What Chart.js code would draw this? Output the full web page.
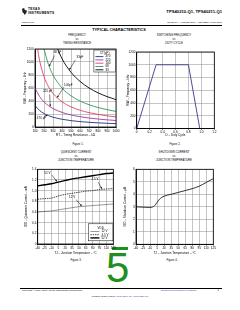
<!DOCTYPE html>
<html><head><meta charset="utf-8">
<script src="https://cdn.jsdelivr.net/npm/chart.js@4.4.1/dist/chart.umd.min.js"></script>
<style>
html,body{margin:0;padding:0;background:#fff;width:240px;height:310px;overflow:hidden;}
body{position:relative;font-family:"Liberation Sans",Arial,sans-serif;color:#000;}
.t{position:absolute;white-space:nowrap;line-height:1;}
.c{transform:translateX(-50%);text-align:center;}
.b{font-weight:bold;}
canvas{position:absolute;}
.blue{color:#3333cc;}
</style></head><body>

<div style="position:absolute;left:22px;top:8px;width:5px;height:7px;background:#222;clip-path:polygon(0 10%,45% 0,55% 30%,100% 35%,85% 70%,55% 100%,35% 75%,10% 60%);"></div>
<div class="t b" style="left:28px;top:8.3px;font-size:3.2px;letter-spacing:0.3px;">TEXAS</div>
<div class="t b" style="left:28px;top:12px;font-size:3.2px;letter-spacing:0.3px;">INSTRUMENTS</div>
<div class="t b" style="right:18px;top:9.8px;font-size:4.2px;">TPS40210-Q1, TPS40211-Q1</div>
<div class="t" style="left:22px;top:21.8px;font-size:2.4px;">www.ti.com</div>
<div class="t" style="right:18px;top:21.8px;font-size:2.4px;">SLVS910 – AUGUST 2009 – REVISED APRIL 2010</div>
<div style="position:absolute;left:21px;top:24.8px;width:201px;height:0.5px;background:#000;"></div>

<div class="t b c" style="left:119px;top:28.8px;font-size:3.8px;">TYPICAL CHARACTERISTICS</div>

<div class="t c" style="left:77px;top:33.6px;font-size:2.8px;">FREQUENCY</div>
<div class="t c" style="left:77px;top:37.9px;font-size:2.8px;">vs</div>
<div class="t c" style="left:77px;top:42.3px;font-size:2.8px;">TIMING RESISTANCE</div>
<div class="t c" style="left:174px;top:33.6px;font-size:2.8px;">SWITCHING FREQUENCY</div>
<div class="t c" style="left:174px;top:37.9px;font-size:2.8px;">vs</div>
<div class="t c" style="left:174px;top:42.3px;font-size:2.8px;">DUTY CYCLE</div>

<div class="t c" style="left:78px;top:142.6px;font-size:2.8px;">Figure 1.</div>
<div class="t c" style="left:175px;top:142.6px;font-size:2.8px;">Figure 2.</div>

<div class="t c" style="left:76px;top:151.3px;font-size:2.8px;">QUIESCENT CURRENT</div>
<div class="t c" style="left:76px;top:155.3px;font-size:2.8px;">vs</div>
<div class="t c" style="left:76px;top:159.3px;font-size:2.8px;">JUNCTION TEMPERATURE</div>
<div class="t c" style="left:174px;top:151.3px;font-size:2.8px;">SHUTDOWN CURRENT</div>
<div class="t c" style="left:174px;top:155.3px;font-size:2.8px;">vs</div>
<div class="t c" style="left:174px;top:159.3px;font-size:2.8px;">JUNCTION TEMPERATURE</div>

<div class="t c" style="left:76px;top:258.6px;font-size:2.8px;">Figure 3.</div>
<div class="t c" style="left:172px;top:258.6px;font-size:2.8px;">Figure 4.</div>

<div style="position:absolute;left:112px;top:246.8px;width:16px;height:3px;background:#1f8f1f;"></div>
<div class="t" style="left:106px;top:247px;font-size:42px;color:#1f8f1f;">5</div>

<div style="position:absolute;left:20px;top:287.8px;width:202px;height:0.8px;background:#000;"></div>
<div class="t" style="left:22px;top:290px;font-size:2.4px;">Copyright © 2009–2010, Texas Instruments Incorporated</div>
<div class="t blue" style="left:161px;top:290px;font-size:2.4px;">Submit Documentation Feedback</div>
<div class="t" style="left:217.5px;top:290px;font-size:2.6px;">5</div>
<div class="t c" style="left:120px;top:296.2px;font-size:2.4px;">Product Folder Link(s): <span class="blue">TPS40210-Q1</span>&nbsp; <span class="blue">TPS40211-Q1</span></div>

<canvas id="c1"></canvas>
<canvas id="c2"></canvas>
<canvas id="c3"></canvas>
<canvas id="c4"></canvas>

<script>
// ---------- Figure 1: frequency vs timing resistance ----------
const fig1XTicks = [100,200,300,400,500,600,700,800,900,1000];
const fig1YTicks = [0,200,400,600,800,1000,1200];
const fig1Caps = ['470','220','100','68','33'];
const rt470 = [100,150,200,250,300,400,500,600,700,800,900,1000];
const f470  = [330,255,207,175,151,119,98,83,72,64,57,52];
const rt220 = [100,150,200,250,300,400,500,600,700,800,900,1000];
const f220  = [600,470,386,327,284,225,186,159,138,123,110,100];
const rt100 = [128,150,200,250,300,400,500,600,700,800,900,1000];
const f100  = [1210,1030,775,620,517,388,310,258,221,194,172,155];
const rt68  = [198,250,300,400,500,600,700,800,900,1000];
const f68   = [1210,960,800,600,480,400,343,300,267,240];
const rt33  = [350,400,500,600,700,800,900,1000];
const f33   = [1205,1050,842,702,601,526,468,421];

// ---------- Figure 2: switching frequency vs duty cycle ----------
const fig2XTicks = [0,0.2,0.4,0.6,0.8,1.0,1.2];
const fig2XLabels = ['0','0.2','0.4','0.6','0.8','1.0','1.2'];
const fig2YTicks = [0,200,400,600,800,1000,1200];
const duty = [0,0.3,0.8,0.975];
const fswDuty = [0,1000,1000,0];

// ---------- Figure 3: quiescent current vs temperature ----------
const tempTicks = [-40,-25,-10,5,20,35,50,65,80,95,110,125];
const fig3YTicks = [0,0.2,0.4,0.6,0.8,1.0,1.2,1.4];
const fig3YLabels = ['0','0.2','0.4','0.6','0.8','1.0','1.2','1.4'];
const fig3Temp = [-40,-25,-10,5,20,35,50,65,80,95,110,125];
const idd52 = [1.09,1.11,1.13,1.16,1.19,1.22,1.24,1.26,1.28,1.30,1.32,1.33];
const idd45 = [0.84,0.85,0.86,0.90,0.93,0.95,0.97,0.99,1.00,1.02,1.03,1.04];
const idd12 = [0.60,0.61,0.62,0.64,0.66,0.68,0.70,0.71,0.72,0.73,0.74,0.75];
const fig3Names = ['12 V','4.5 V','52 V'];

// ---------- Figure 4: shutdown current vs temperature ----------
const fig4YTicks = [0,1,2,3,4,5,6];
const fig4Temp = [-40,-25,-10,-5,0,5,10,20,35,50,65,80,95,110,125];
const isd = [3.0,2.97,2.95,2.98,3.1,3.35,3.6,3.85,4.0,4.15,4.3,4.45,4.65,4.95,5.25];

// ---------- styles ----------
const FONT = '"Liberation Sans", Arial, sans-serif';
const fig1Colors = ['#24307e','#9c3a9c','#e0406a','#2e9a5a','#000000'];

function pts(xs, ys){ return xs.map((x,i)=>({x:x, y:ys[i]})); }

const framePlugin = {
  id:'frame',
  afterDatasetsDraw(chart){
    const {ctx, chartArea:a} = chart;
    ctx.save(); ctx.strokeStyle='#000'; ctx.lineWidth=0.8;
    ctx.strokeRect(a.left, a.top, a.right-a.left, a.bottom-a.top);
    ctx.restore();
  }
};

const notesPlugin = {
  id:'notes',
  afterDatasetsDraw(chart, args, opts){
    const items = (opts && opts.items) || [];
    const xs = chart.scales.x, ys = chart.scales.y, ctx = chart.ctx;
    ctx.save();
    ctx.font = '3px ' + FONT;
    ctx.fillStyle='#000'; ctx.strokeStyle='#000'; ctx.lineWidth=0.5;
    ctx.textAlign='center'; ctx.textBaseline='middle';
    for (const n of items){
      ctx.fillText(n.text, xs.getPixelForValue(n.at[0]), ys.getPixelForValue(n.at[1]));
      if (n.from){
        const x1=xs.getPixelForValue(n.from[0]), y1=ys.getPixelForValue(n.from[1]);
        const x2=xs.getPixelForValue(n.to[0]), y2=ys.getPixelForValue(n.to[1]);
        ctx.beginPath(); ctx.moveTo(x1,y1); ctx.lineTo(x2,y2); ctx.stroke();
        const ang=Math.atan2(y2-y1,x2-x1), L=1.8, W=0.9;
        ctx.beginPath();
        ctx.moveTo(x2,y2);
        ctx.lineTo(x2-L*Math.cos(ang)+W*Math.sin(ang), y2-L*Math.sin(ang)-W*Math.cos(ang));
        ctx.lineTo(x2-L*Math.cos(ang)-W*Math.sin(ang), y2-L*Math.sin(ang)+W*Math.cos(ang));
        ctx.closePath(); ctx.fill();
      }
    }
    ctx.restore();
  }
};

const legendBoxPlugin = {
  id:'legbox',
  afterDatasetsDraw(chart, args, o){
    if (!o || !o.rows) return;
    const {ctx, chartArea:a} = chart;
    const x = a.right - o.dx - o.w, y = a.top + o.dy;
    ctx.save();
    ctx.fillStyle='#fff'; ctx.fillRect(x,y,o.w,o.h);
    ctx.strokeStyle='#000'; ctx.lineWidth=0.5; ctx.strokeRect(x,y,o.w,o.h);
    ctx.font='3px '+FONT; ctx.fillStyle='#000'; ctx.textBaseline='middle';
    ctx.textAlign='center'; ctx.fillText(o.title, x+o.w/2, y+o.titleY);
    ctx.textAlign='left';
    o.rows.forEach((r,i)=>{
      const yy = y + o.row0 + i*o.step;
      ctx.strokeStyle=r.color; ctx.lineWidth=r.width; ctx.setLineDash(r.dash||[]);
      ctx.beginPath(); ctx.moveTo(x+o.l0,yy); ctx.lineTo(x+o.l1,yy); ctx.stroke();
      ctx.setLineDash([]);
      ctx.fillStyle='#000'; ctx.fillText(r.label, x+o.tx, yy);
    });
    ctx.restore();
  }
};

function build(id, box, plot, ax, datasets, pluginOpts){
  const c = document.getElementById(id);
  const w = box.r-box.l, h = box.b-box.t;
  c.width=w; c.height=h;
  c.style.left=box.l+'px'; c.style.top=box.t+'px'; c.style.width=w+'px'; c.style.height=h+'px';
  const yW = plot.l-box.l, xH = box.b-plot.b;
  const tf = {family:FONT, size:3, lineHeight:1.2};
  const lh = 3.6;
  return new Chart(c, {
    type:'line',
    data:{datasets:datasets},
    plugins:[framePlugin, notesPlugin, legendBoxPlugin],
    options:{
      responsive:false, animation:false, devicePixelRatio:1,
      layout:{padding:{top:plot.t-box.t, right:box.r-plot.r, left:0, bottom:0}},
      elements:{point:{radius:0}},
      plugins:Object.assign({legend:{display:false}, tooltip:{enabled:false}}, pluginOpts||{}),
      scales:{
        x:{type:'linear', min:ax.xTicks[0], max:ax.xTicks[ax.xTicks.length-1],
           afterFit:s=>{s.height=xH;},
           afterBuildTicks:s=>{s.ticks=ax.xTicks.map(v=>({value:v}));},
           ticks:{autoSkip:false, maxRotation:0, minRotation:0, padding:0.5, color:'#000',
                  font:{family:FONT,size:3.1}, callback:(v,i)=>ax.xLabels[i]},
           grid:{color:'#8a8a8a', lineWidth:0.5, tickLength:1.5, tickColor:'#000', tickWidth:0.5},
           border:{color:'#000', width:0.8},
           title:{display:true, text:ax.xTitle, color:'#000', font:tf,
                  padding:{top:0,bottom:box.b-ax.xTitleY-lh/2}}},
        y:{type:'linear', min:ax.yTicks[0], max:ax.yTicks[ax.yTicks.length-1],
           afterFit:s=>{s.width=yW;},
           afterBuildTicks:s=>{s.ticks=ax.yTicks.map(v=>({value:v}));},
           ticks:{autoSkip:false, padding:1.3, color:'#000',
                  font:{family:FONT,size:3.1}, callback:(v,i)=>ax.yLabels[i]},
           grid:{color:'#8a8a8a', lineWidth:0.5, drawTicks:false},
           border:{color:'#000', width:0.8},
           title:{display:true, text:ax.yTitle, color:'#000', font:tf,
                  padding:{top:ax.yTitleX-box.l-lh/2,bottom:0}}}
      }
    }
  });
}

function ds(data, color, width, dash, smooth){
  return {data:data, borderColor:color, borderWidth:width, borderDash:dash||[], pointRadius:0,
          fill:false, cubicInterpolationMode: smooth?'monotone':'default', tension:0};
}

// Figure 1
build('c1', {l:20,t:44,r:121,b:140}, {l:35,t:49,r:116,b:127},
  {xTicks:fig1XTicks, xLabels:fig1XTicks.map(String), yTicks:fig1YTicks, yLabels:fig1YTicks.map(String),
   xTitle:'RT – Timing Resistance – kΩ', xTitleY:135, yTitle:'fSW – Frequency – kHz', yTitleX:25},
  [ds(pts(rt470,f470),fig1Colors[0],0.9,null,true),
   ds(pts(rt220,f220),fig1Colors[1],0.9,null,true),
   ds(pts(rt100,f100),fig1Colors[2],0.9,null,true),
   ds(pts(rt68,f68),fig1Colors[3],0.9,null,true),
   ds(pts(rt33,f33),fig1Colors[4],0.9,null,true)],
  {notes:{items:[
     {text:'68 pF', at:[350,1150], from:[318,1100], to:[258,935]},
     {text:'33pF', at:[600,1080], from:[548,1030], to:[482,880]},
     {text:'100pF', at:[470,650], from:[420,612], to:[346,452]},
     {text:'220 pF', at:[240,545], from:[262,500], to:[270,318]},
     {text:'470 pF', at:[172,135], from:[205,160], to:[238,186]}]},
   legbox:{dx:0.6, dy:1, w:21.5, h:22, title:'CT(pF)', titleY:2.9, row0:6.6, step:3.3,
     l0:1.5, l1:9.5, tx:11.5,
     rows:fig1Caps.map((c,i)=>({label:c, color:fig1Colors[i], width:0.9}))}});

// Figure 2
build('c2', {l:126,t:47,r:220,b:140}, {l:136.7,t:52,r:214.3,b:128.5},
  {xTicks:fig2XTicks, xLabels:fig2XLabels, yTicks:fig2YTicks, yLabels:fig2YTicks.map(String),
   xTitle:'D – Duty Cycle', xTitleY:135, yTitle:'fSW – Frequency – kHz', yTitleX:128.3},
  [ds(pts(duty,fswDuty),'#3a3a8c',0.9)], {});

// Figure 3
build('c3', {l:22,t:165,r:118,b:257}, {l:37.7,t:169.3,r:113.3,b:244},
  {xTicks:tempTicks, xLabels:tempTicks.map(String), yTicks:fig3YTicks, yLabels:fig3YLabels,
   xTitle:'TJ – Junction Temperature – °C', xTitleY:252.7, yTitle:'IDD – Quiescent Current – mA', yTitleX:26},
  [ds(pts(fig3Temp,idd12),'#333',0.5,null,true),
   ds(pts(fig3Temp,idd45),'#000',0.7,[1.5,0.8],true),
   ds(pts(fig3Temp,idd52),'#000',1.4,null,true)],
  {notes:{items:[
     {text:'52 V', at:[-19,1.33], from:[-9,1.29], to:[2,1.17]},
     {text:'4.5 V', at:[85,1.21], from:[92,1.16], to:[100,1.035]},
     {text:'12 V', at:[35,0.875], from:[44,0.83], to:[56,0.712]}]},
   legbox:{dx:0.4, dy:54.5, w:24.5, h:17, title:'VDD', titleY:4, row0:7.7, step:3.2,
     l0:2, l1:11, tx:13,
     rows:[{label:fig3Names[0], color:'#333', width:0.5},
           {label:fig3Names[1], color:'#000', width:0.7, dash:[1.5,0.8]},
           {label:fig3Names[2], color:'#000', width:1.4}]}});

// Figure 4
build('c4', {l:122,t:165,r:219,b:257}, {l:136,t:169.3,r:213.3,b:244.3},
  {xTicks:tempTicks, xLabels:tempTicks.map(String), yTicks:fig4YTicks, yLabels:fig4YTicks.map(String),
   xTitle:'TJ – Junction Temperature – °C', xTitleY:252.7, yTitle:'ISD – Shutdown Current – µA', yTitleX:125},
  [ds(pts(fig4Temp,isd),'#000',0.8,null,true)], {});
</script>
</body></html>
